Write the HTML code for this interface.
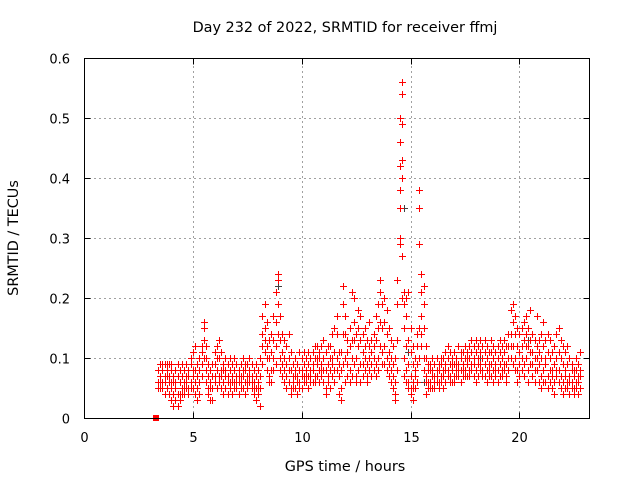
<!DOCTYPE html>
<html><head><meta charset="utf-8"><style>
body{margin:0;background:#fff}
svg{display:block}
text{font-family:"DejaVu Sans","Liberation Sans",sans-serif;font-size:13px;fill:#000}
text.big{font-size:14.4px}
</style></head><body>
<svg id="chart" width="640" height="480" viewBox="0 0 640 480">
<rect width="640" height="480" fill="#fff"/>
<text class="big" x="345" y="32" text-anchor="middle">Day 232 of 2022, SRMTID for receiver ffmj</text>
<text class="big" x="345" y="471" text-anchor="middle">GPS time / hours</text>
<text class="big" transform="translate(18,238) rotate(-90)" text-anchor="middle">SRMTID / TECUs</text>
<g id="grid" shape-rendering="crispEdges"></g>
<g id="marks" shape-rendering="crispEdges"></g>
<rect x="84.5" y="58.5" width="505" height="360" fill="none" stroke="#000" stroke-width="1" shape-rendering="crispEdges"/>
<g id="ticks"></g>
</svg>
<script>
const xTicks=[0,5,10,15,20];
const yTicks=[0,0.1,0.2,0.3,0.4,0.5,0.6];
const yTickLabels=["0","0.1","0.2","0.3","0.4","0.5","0.6"];
const times=[3.4,3.5,3.6,3.7,3.8,3.9,4.0,4.1,4.2,4.3,4.4,4.5,4.6,4.7,4.8,4.9,5.0,5.1,5.2,5.3,5.4,5.5,5.6,5.7,5.8,5.9,6.0,6.1,6.2,6.3,6.4,6.5,6.6,6.7,6.8,6.9,7.0,7.1,7.2,7.3,7.4,7.5,7.6,7.7,7.8,7.9,8.0,8.1,8.2,8.3,8.4,8.5,8.6,8.7,8.8,8.9,9.0,9.1,9.2,9.3,9.4,9.5,9.6,9.7,9.8,9.9,10.0,10.1,10.2,10.3,10.4,10.5,10.6,10.7,10.8,10.9,11.0,11.1,11.2,11.3,11.4,11.5,11.6,11.7,11.8,11.9,12.0,12.1,12.2,12.3,12.4,12.5,12.6,12.7,12.8,12.9,13.0,13.1,13.2,13.3,13.4,13.5,13.6,13.7,13.8,13.9,14.0,14.1,14.2,14.3,14.4,14.5,14.6,14.7,14.8,14.9,15.0,15.1,15.2,15.3,15.4,15.5,15.6,15.7,15.8,15.9,16.0,16.1,16.2,16.3,16.4,16.5,16.6,16.7,16.8,16.9,17.0,17.1,17.2,17.3,17.4,17.5,17.6,17.7,17.8,17.9,18.0,18.1,18.2,18.3,18.4,18.5,18.6,18.7,18.8,18.9,19.0,19.1,19.2,19.3,19.4,19.5,19.6,19.7,19.8,19.9,20.0,20.1,20.2,20.3,20.4,20.5,20.6,20.7,20.8,20.9,21.0,21.1,21.2,21.3,21.4,21.5,21.6,21.7,21.8,21.9,22.0,22.1,22.2,22.3,22.4,22.5,22.6,22.7,22.8];
const values=[
[0.06,0.08,0.05],[0.07,0.09,0.05,0.06],[0.08,0.06,0.09,0.05],[0.07,0.09,0.06,0.04],[0.08,0.05,0.07,0.09],[0.06,0.09,0.04,0.07],
[0.05,0.03,0.08,0.06,0.09],[0.04,0.07,0.02,0.06],[0.03,0.05,0.08,0.06],[0.02,0.04,0.07,0.09],[0.04,0.06,0.03,0.08],[0.05,0.07,0.04,0.09],[0.06,0.04,0.08,0.05],[0.07,0.05,0.09,0.06],[0.05,0.08,0.04,0.07],[0.06,0.09,0.05,0.1],
[0.07,0.11,0.05,0.08],[0.04,0.08,0.12,0.06],[0.05,0.09,0.07,0.03],[0.06,0.1,0.08,0.04],[0.09,0.12,0.07,0.11],[0.13,0.16,0.1,0.15],[0.08,0.12,0.06,0.1],[0.05,0.07,0.09,0.04],[0.03,0.06,0.08,0.05],[0.03,0.05,0.07,0.09],
[0.06,0.09,0.11,0.07],[0.08,0.12,0.05,0.1],[0.07,0.1,0.13,0.06],[0.05,0.08,0.11,0.07],[0.06,0.09,0.04,0.08],[0.07,0.05,0.1,0.08],[0.06,0.09,0.04,0.07],[0.05,0.08,0.06,0.1],[0.07,0.04,0.09,0.06],[0.06,0.08,0.05,0.1],
[0.07,0.05,0.09,0.06],[0.06,0.08,0.04,0.07],[0.05,0.07,0.09,0.06],[0.07,0.1,0.05,0.08],[0.06,0.08,0.04,0.09],[0.07,0.09,0.05,0.06],[0.08,0.06,0.1,0.07],[0.05,0.07,0.09,0.06],[0.04,0.06,0.08,0.05],[0.05,0.07,0.03,0.09],
[0.06,0.04,0.08,0.05],[0.02,0.05,0.07,0.1],[0.09,0.14,0.17,0.12],[0.11,0.15,0.19,0.13],[0.08,0.12,0.16,0.1],[0.07,0.1,0.13,0.06],[0.08,0.11,0.14,0.06],[0.1,0.13,0.17,0.08],[0.12,0.16,0.21,0.09],[0.14,0.19,0.24,0.23],
[0.1,0.13,0.17,0.08],[0.07,0.11,0.14,0.09],[0.06,0.1,0.13,0.08],[0.05,0.09,0.12,0.07],[0.06,0.1,0.14,0.08],[0.05,0.08,0.11,0.04],[0.06,0.09,0.07,0.05],[0.07,0.05,0.1,0.08],[0.06,0.09,0.04,0.07],[0.08,0.11,0.06,0.05],
[0.07,0.1,0.05,0.08],[0.06,0.09,0.11,0.07],[0.08,0.06,0.1,0.07],[0.07,0.09,0.05,0.11],[0.06,0.08,0.1,0.07],[0.08,0.11,0.06,0.09],[0.07,0.1,0.12,0.06],[0.09,0.12,0.07,0.1],[0.08,0.11,0.06,0.1],[0.07,0.09,0.12,0.08],
[0.06,0.1,0.13,0.08],[0.05,0.08,0.11,0.04],[0.06,0.09,0.12,0.07],[0.08,0.12,0.05,0.1],[0.07,0.1,0.14,0.09],[0.08,0.11,0.15,0.06],[0.1,0.14,0.17,0.08],[0.07,0.11,0.04,0.09],[0.05,0.08,0.11,0.03],[0.09,0.14,0.19,0.22],
[0.1,0.14,0.17,0.06],[0.07,0.11,0.09,0.13],[0.08,0.12,0.15,0.06],[0.07,0.1,0.13,0.21],[0.09,0.13,0.16,0.2],[0.07,0.1,0.14,0.06],[0.08,0.12,0.15,0.18],[0.09,0.13,0.17,0.06],[0.07,0.11,0.14,0.09],[0.08,0.12,0.1,0.15],
[0.06,0.09,0.13,0.07],[0.08,0.12,0.16,0.1],[0.09,0.13,0.11,0.07],[0.1,0.14,0.08,0.12],[0.09,0.13,0.17,0.07],[0.1,0.15,0.19,0.08],[0.12,0.16,0.21,0.23],[0.11,0.15,0.19,0.09],[0.12,0.16,0.2,0.09],[0.1,0.14,0.18,0.08],
[0.07,0.11,0.15,0.09],[0.06,0.1,0.13,0.08],[0.05,0.09,0.12,0.07],[0.03,0.06,0.1,0.04],[0.08,0.13,0.19,0.23],[0.3,0.38,0.46,0.5,0.42,0.35,0.29],[0.56,0.54,0.49,0.43,0.4,0.27,0.2],[0.15,0.19,0.21,0.1,0.07],[0.08,0.12,0.17,0.2,0.06],[0.06,0.09,0.13,0.21,0.05],
[0.04,0.07,0.11,0.15,0.05],[0.03,0.06,0.09,0.12,0.05],[0.05,0.08,0.1,0.07],[0.06,0.09,0.12,0.14],[0.1,0.15,0.35,0.38,0.29],[0.12,0.17,0.21,0.24,0.14],[0.1,0.15,0.19,0.22,0.08],[0.04,0.07,0.1,0.12,0.06],[0.05,0.08,0.06,0.09],[0.06,0.09,0.05,0.08],
[0.05,0.08,0.07,0.1],[0.06,0.09,0.05,0.07],[0.07,0.1,0.06,0.08],[0.05,0.08,0.06,0.09],[0.06,0.09,0.07,0.1],[0.07,0.1,0.05,0.08],[0.06,0.09,0.11,0.08],[0.07,0.1,0.12,0.08],[0.06,0.09,0.11,0.07],[0.08,0.1,0.06,0.09],
[0.07,0.09,0.11,0.06],[0.08,0.1,0.07,0.09],[0.07,0.09,0.12,0.08],[0.08,0.11,0.06,0.1],[0.07,0.09,0.11,0.08],[0.08,0.1,0.12,0.07],[0.09,0.11,0.07,0.1],[0.08,0.1,0.12,0.07],[0.09,0.11,0.13,0.08],[0.07,0.1,0.12,0.09],
[0.08,0.11,0.13,0.06],[0.09,0.12,0.07,0.1],[0.08,0.11,0.13,0.09],[0.07,0.1,0.12,0.08],[0.09,0.11,0.13,0.07],[0.08,0.1,0.12,0.06],[0.07,0.09,0.11,0.08],[0.09,0.11,0.13,0.07],[0.08,0.1,0.12,0.06],[0.07,0.09,0.11,0.08],
[0.08,0.1,0.12,0.06],[0.09,0.11,0.13,0.07],[0.07,0.1,0.12,0.08],[0.08,0.11,0.13,0.09],[0.06,0.09,0.12,0.07],[0.08,0.12,0.14,0.1],[0.1,0.14,0.18,0.12],[0.12,0.16,0.19,0.09],[0.1,0.14,0.17,0.08],[0.08,0.12,0.15,0.06],
[0.07,0.11,0.14,0.09],[0.08,0.12,0.15,0.1],[0.09,0.13,0.16,0.07],[0.1,0.14,0.17,0.12],[0.08,0.12,0.15,0.06],[0.09,0.13,0.18,0.11],[0.07,0.11,0.14,0.09],[0.06,0.1,0.13,0.08],[0.08,0.12,0.17,0.1],[0.06,0.09,0.13,0.11],
[0.07,0.1,0.14,0.05],[0.08,0.12,0.16,0.06],[0.06,0.09,0.13,0.1],[0.07,0.11,0.14,0.05],[0.06,0.1,0.13,0.08],[0.05,0.08,0.11,0.07],[0.06,0.09,0.12,0.04],[0.07,0.1,0.14,0.08],[0.08,0.11,0.15,0.06],[0.07,0.1,0.13,0.05],
[0.06,0.09,0.12,0.04],[0.05,0.08,0.11,0.07],[0.06,0.09,0.12,0.05],[0.04,0.07,0.1,0.06],[0.05,0.08,0.06,0.09],[0.04,0.07,0.05,0.08],[0.05,0.08,0.06,0.1],[0.04,0.07,0.06,0.09],[0.05,0.08,0.11,0.07]
];
const darkTimes=[8.9,12.3,14.7,14.9,15.6,18.2,20.4];
const darkValues=[0.22,0.1,0.35,0.11,0.06,0.1,0.13];
const zeroTimes=[3.3];
const zeroValues=[0];

const X0=84,X1=589,Y0=418,Y1=58,XMAX=23.2,YMAX=0.6;
function xs(t){return X0+(X1-X0)*t/XMAX;}
function ys(v){return Y0-(Y0-Y1)*v/YMAX;}
const NS="http://www.w3.org/2000/svg";
const grid=document.getElementById('grid'),ticks=document.getElementById('ticks'),marks=document.getElementById('marks');
function mk(tag,attrs,parent){const e=document.createElementNS(NS,tag);for(const k in attrs)e.setAttribute(k,attrs[k]);parent.appendChild(e);return e;}

xTicks.forEach(t=>{
  const x=Math.round(xs(t))+0.5;
  if(t>0){const g=mk('line',{x1:x,x2:x,y1:Y0,y2:Y1,stroke:'#a0a0a0','stroke-dasharray':'2,3'},grid);
  
  }
  const tk=mk('path',{d:`M${x},${Y0+0.5}v-6M${x},${Y1+0.5}v6`,stroke:'#000','shape-rendering':'crispEdges'},ticks);
  
  
  const lb=mk('text',{x:x,y:442,'text-anchor':'middle'},ticks);lb.textContent=String(t);
  
  
});
yTicks.forEach((v,i)=>{
  const y=Math.round(ys(v))+0.5;
  if(v>0&&v<YMAX){const g=mk('line',{x1:X0,x2:X1,y1:y,y2:y,stroke:'#a0a0a0','stroke-dasharray':'2,3'},grid);
  
  }
  const tk=mk('path',{d:`M${X0+0.5},${y}h6M${X1+0.5},${y}h-6`,stroke:'#000','shape-rendering':'crispEdges'},ticks);
  
  
  const lb=mk('text',{x:70,y:y+5,'text-anchor':'end'},ticks);lb.textContent=yTickLabels[i];
  
  
});
function plus(t,v,color){
  const x=Math.round(xs(t))+0.5,y=Math.round(ys(v))+0.5;
  const p=mk('path',{d:`M${x-3.5},${y}h7M${x},${y-3.5}v7`,stroke:color,'stroke-width':1,fill:'none'},marks);
  
  
}
darkTimes.forEach((t,i)=>plus(t,darkValues[i],'#404040'));
times.forEach((t,i)=>values[i].forEach(v=>plus(t,v,'#ff0000')));
zeroTimes.forEach((t,i)=>{
  const r=mk('rect',{x:Math.round(xs(t))-3,y:Math.round(ys(zeroValues[i]))-3,width:6,height:6,fill:'#ff0000'},marks);
  
  
});
</script>
</body></html>
